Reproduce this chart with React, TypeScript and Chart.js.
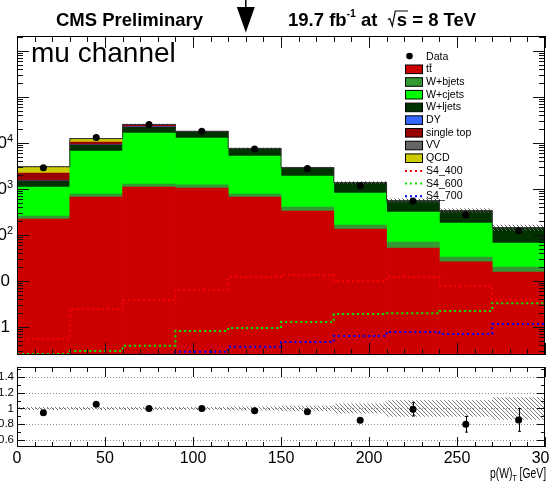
import React, { useEffect, useRef } from 'react';
import { Chart, registerables } from 'chart.js';
Chart.register(...registerables);

const FONT = '"Liberation Sans", Arial, Helvetica, sans-serif';

// ---------------- data ----------------
const binEdges = [0, 30, 60, 90, 120, 150, 180, 210, 240, 270, 300];
// stack components, bottom to top
const ttbar = [223, 670, 1105, 1050, 670, 332, 135, 52, 26, 15.7];
const wbjets = [36, 109, 180, 180, 109, 74, 30, 18, 7, 4.3];
const wcjets = [846, 5920, 15200, 11600, 4436, 1512, 653, 246, 149, 47];
const wljets = [388, 2350, 5400, 4450, 2195, 945, 540, 232, 150, 75];
const drellYan = [15, 120, 500, 200, 80, 20, 5, 2, 1, 0.5];
const singleTop = [720, 1300, 2500, 400, 100, 20, 8, 3, 2, 1];
const qcd = [780, 1700, 100, 50, 10, 4, 1, 0.1, 0.1, 0.1];
const diboson = [40, 300, 300, 50, 30, 10, 3, 2, 1, 0.5];
const mcRelUnc = [0.015, 0.015, 0.015, 0.015, 0.02, 0.03, 0.06, 0.1, 0.1, 0.14];
// data
const dataCounts = [2900, 13200, 25400, 18000, 7400, 2800, 1170, 550, 272, 123];
// signals
const signal400 = [0.55, 2.46, 3.86, 6.36, 12.2, 13.5, 10, 12.2, 7.8, 3.86];
const signal600 = [0.26, 0.3, 0.39, 0.82, 0.95, 1.28, 1.92, 2.0, 2.23, 3.3];
const signal700 = [0.25, 0.25, 0.25, 0.29, 0.37, 0.47, 0.64, 0.78, 0.7, 1.16];
// ratio panel
const ratioValues = [0.945, 1.055, 1.0, 1.0, 0.97, 0.96, 0.85, 0.99, 0.8, 0.855];
const ratioErrors = [0.01, 0.01, 0.01, 0.01, 0.015, 0.02, 0.03, 0.085, 0.1, 0.145];
// ticks / labels
const yDecadeLabels = [0, 1, 2, 3, 4];
const xTickLabels = [0, 50, 100, 150, 200, 250, 300];
const ratioTickLabels = [0.6, 0.8, 1, 1.2, 1.4];
const arrowAt = 130;

const Y_MIN = 0.246;
const Y_MAX = 2.12e6;
const R_MIN = 0.511;
const R_MAX = 1.527;

const C = {
  tt: '#cc0000',
  wb: '#339933',
  wc: '#00ff00',
  wl: '#003300',
  dy: '#3366ff',
  st: '#990000',
  vv: '#666666',
  qcd: '#cccc00',
  s400: '#ff0000',
  s600: '#00ee00',
  s700: '#0000ff',
};

const components = [
  { label: 'tt̄', values: ttbar, color: C.tt },
  { label: 'W+bjets', values: wbjets, color: C.wb },
  { label: 'W+cjets', values: wcjets, color: C.wc },
  { label: 'W+ljets', values: wljets, color: C.wl },
  { label: 'DY', values: drellYan, color: C.dy },
  { label: 'single top', values: singleTop, color: C.st },
  { label: 'QCD', values: qcd, color: C.qcd },
  { label: 'VV', values: diboson, color: C.vv },
];

const legendEntries = [
  { label: 'Data', kind: 'marker', color: '#000' },
  { label: 'tt̄', kind: 'box', color: C.tt },
  { label: 'W+bjets', kind: 'box', color: C.wb },
  { label: 'W+cjets', kind: 'box', color: C.wc },
  { label: 'W+ljets', kind: 'box', color: C.wl },
  { label: 'DY', kind: 'box', color: C.dy },
  { label: 'single top', kind: 'box', color: C.st },
  { label: 'VV', kind: 'box', color: C.vv },
  { label: 'QCD', kind: 'box', color: C.qcd },
  { label: 'S4_400', kind: 'line', color: C.s400 },
  { label: 'S4_600', kind: 'line', color: C.s600 },
  { label: 'S4_700', kind: 'line', color: C.s700 },
];

const centers = binEdges.slice(0, -1).map((e, i) => (e + binEdges[i + 1]) / 2);
// points at bin edges; with stepped 'before' the segment [edge i, edge i+1] takes point i's value
const stepPoints = (vals: number[]) =>
  binEdges.map((e, i) => ({ x: e, y: vals[Math.min(i, vals.length - 1)] }));

function makeHatch(ctx: CanvasRenderingContext2D, color: string) {
  const c = document.createElement('canvas');
  c.width = 4;
  c.height = 4;
  const g = c.getContext('2d')!;
  g.strokeStyle = color;
  g.lineWidth = 1;
  g.beginPath();
  g.moveTo(-1, -1);
  g.lineTo(5, 5);
  g.moveTo(-1, 3);
  g.lineTo(1, 5);
  g.moveTo(3, -1);
  g.lineTo(5, 1);
  g.stroke();
  return ctx.createPattern(c, 'repeat')!;
}

const topPlugin = {
  id: 'topDecor',
  afterDraw(chart: any) {
    const { ctx, chartArea: a } = chart;
    const xs = chart.scales.x;
    const ys = chart.scales.y;
    ctx.save();
    // ticks
    ctx.strokeStyle = '#111';
    ctx.lineWidth = 1;
    ctx.setLineDash([]);
    ctx.beginPath();
    for (let v = 0; v <= 300; v += 10) {
      const px = Math.round(xs.getPixelForValue(v)) + 0.5;
      const len = v % 50 === 0 ? 12 : 6;
      ctx.moveTo(px, a.top);
      ctx.lineTo(px, a.top + len);
      ctx.moveTo(px, a.bottom);
      ctx.lineTo(px, a.bottom - len);
    }
    for (let d = -1; d <= 7; d++) {
      for (let m = 1; m <= 9; m++) {
        const v = m * Math.pow(10, d);
        if (v < ys.min || v > ys.max) continue;
        const py = Math.round(ys.getPixelForValue(v)) + 0.5;
        const len = m === 1 ? 12 : 6;
        ctx.moveTo(a.left, py);
        ctx.lineTo(a.left + len, py);
        ctx.moveTo(a.right, py);
        ctx.lineTo(a.right - len, py);
      }
    }
    ctx.stroke();
    ctx.strokeStyle = '#000';
    ctx.strokeRect(a.left + 0.5, a.top + 0.5, a.right - a.left - 1, a.bottom - a.top - 1);

    // y labels
    ctx.fillStyle = '#000';
    for (const k of yDecadeLabels) {
      const py = ys.getPixelForValue(Math.pow(10, k));
      if (k < 2) {
        ctx.font = `17px ${FONT}`;
        ctx.textAlign = 'right';
        ctx.textBaseline = 'middle';
        ctx.fillText(k === 0 ? '1' : '10', 10, py);
      } else {
        ctx.font = `11px ${FONT}`;
        const sw = ctx.measureText(String(k)).width;
        const right = 13;
        ctx.textAlign = 'left';
        ctx.textBaseline = 'alphabetic';
        ctx.fillText(String(k), right - sw, py - 1);
        ctx.font = `17px ${FONT}`;
        ctx.textAlign = 'right';
        ctx.textBaseline = 'middle';
        ctx.fillText('10', right - sw, py);
      }
    }

    // header
    ctx.textAlign = 'left';
    ctx.textBaseline = 'alphabetic';
    ctx.font = `bold 18.5px ${FONT}`;
    ctx.fillText('CMS Preliminary', 56, 26);
    let x = 288;
    ctx.fillText('19.7 fb', x, 26);
    x += ctx.measureText('19.7 fb').width;
    ctx.font = `bold 10.5px ${FONT}`;
    ctx.fillText('-1', x, 17);
    x += ctx.measureText('-1').width;
    ctx.font = `bold 18.5px ${FONT}`;
    ctx.fillText(' at  ', x, 26);
    x += ctx.measureText(' at  ').width;
    const sw = ctx.measureText('s').width;
    ctx.strokeStyle = '#000';
    ctx.lineWidth = 1.2;
    ctx.beginPath();
    ctx.moveTo(x, 19.5);
    ctx.lineTo(x + 2, 18.5);
    ctx.lineTo(x + 4.5, 26);
    ctx.lineTo(x + 7.5, 11);
    ctx.lineTo(x + 9 + sw + 1, 11);
    ctx.stroke();
    x += 9;
    ctx.fillText('s = 8 TeV', x, 26);

    // arrow
    const ax = xs.getPixelForValue(arrowAt);
    ctx.lineWidth = 1.5;
    ctx.beginPath();
    ctx.moveTo(ax, 0);
    ctx.lineTo(ax, 8);
    ctx.stroke();
    ctx.beginPath();
    ctx.moveTo(ax - 9, 7);
    ctx.lineTo(ax + 9, 7);
    ctx.lineTo(ax, 32.5);
    ctx.closePath();
    ctx.fill();

    // channel label
    ctx.font = `28px ${FONT}`;
    ctx.fillText('mu channel', 31, 62);

    // legend
    const y0 = 56.6;
    const step = 12.7;
    ctx.font = `10.6px ${FONT}`;
    legendEntries.forEach((e, i) => {
      const ry = y0 + i * step;
      if (e.kind === 'marker') {
        ctx.fillStyle = e.color;
        ctx.beginPath();
        ctx.arc(409.5, ry - 0.5, 3.3, 0, Math.PI * 2);
        ctx.fill();
      } else if (e.kind === 'box') {
        ctx.fillStyle = e.color;
        ctx.fillRect(405, ry - 4.3, 18, 8.6);
        ctx.strokeStyle = '#000';
        ctx.lineWidth = 1;
        ctx.strokeRect(405.5, ry - 4.3, 17, 8.6);
      } else {
        ctx.strokeStyle = e.color;
        ctx.lineWidth = 2;
        ctx.setLineDash([2, 3]);
        ctx.beginPath();
        ctx.moveTo(405, ry);
        ctx.lineTo(424, ry);
        ctx.stroke();
        ctx.setLineDash([]);
      }
      ctx.fillStyle = '#000';
      ctx.textBaseline = 'middle';
      if (e.label === 'tt̄') {
        ctx.fillText('tt', 426, ry);
        const w1 = ctx.measureText('t').width;
        ctx.lineWidth = 0.9;
        ctx.strokeStyle = '#000';
        ctx.beginPath();
        ctx.moveTo(426 + w1 + 0.3, ry - 5.2);
        ctx.lineTo(426 + 2 * w1 - 0.3, ry - 5.2);
        ctx.stroke();
      } else {
        ctx.fillText(e.label, 426, ry);
      }
    });
    ctx.restore();
  },
};

const ratioPlugin = {
  id: 'ratioDecor',
  beforeDatasetsDraw(chart: any) {
    const { ctx, chartArea: a } = chart;
    const ys = chart.scales.y;
    ctx.save();
    ctx.strokeStyle = '#8a8a8a';
    ctx.lineWidth = 1;
    ctx.setLineDash([1, 2]);
    ctx.beginPath();
    for (const v of ratioTickLabels) {
      const py = Math.round(ys.getPixelForValue(v)) + 0.5;
      ctx.moveTo(a.left, py);
      ctx.lineTo(a.right, py);
    }
    ctx.stroke();
    ctx.restore();
  },
  afterDatasetDraw(chart: any, args: any) {
    if (args.index !== 1) return;
    const { ctx } = chart;
    const xs = chart.scales.x;
    const ys = chart.scales.y;
    ctx.save();
    ctx.strokeStyle = '#000';
    ctx.lineWidth = 1;
    ctx.beginPath();
    centers.forEach((c, i) => {
      const px = Math.round(xs.getPixelForValue(c)) + 0.5;
      const y1 = ys.getPixelForValue(ratioValues[i] + ratioErrors[i]);
      const y2 = ys.getPixelForValue(ratioValues[i] - ratioErrors[i]);
      ctx.moveTo(px, y1);
      ctx.lineTo(px, y2);
      ctx.moveTo(px - 1.5, y1);
      ctx.lineTo(px + 1.5, y1);
      ctx.moveTo(px - 1.5, y2);
      ctx.lineTo(px + 1.5, y2);
    });
    ctx.stroke();
    ctx.restore();
  },
  afterDraw(chart: any) {
    const { ctx, chartArea: a } = chart;
    const xs = chart.scales.x;
    const ys = chart.scales.y;
    ctx.save();
    ctx.strokeStyle = '#111';
    ctx.lineWidth = 1;
    ctx.beginPath();
    for (let v = 0; v <= 300; v += 10) {
      const px = Math.round(xs.getPixelForValue(v)) + 0.5;
      const len = v % 50 === 0 ? 10 : 5;
      ctx.moveTo(px, a.top);
      ctx.lineTo(px, a.top + len);
      ctx.moveTo(px, a.bottom);
      ctx.lineTo(px, a.bottom - len);
    }
    for (let k = 5; k <= 15; k++) {
      const v = k / 10;
      if (v < ys.min || v > ys.max) continue;
      const py = Math.round(ys.getPixelForValue(v)) + 0.5;
      const len = k % 2 === 0 ? 8 : 4;
      ctx.moveTo(a.left, py);
      ctx.lineTo(a.left + len, py);
      ctx.moveTo(a.right, py);
      ctx.lineTo(a.right - len, py);
    }
    ctx.stroke();
    ctx.strokeStyle = '#000';
    ctx.strokeRect(a.left + 0.5, a.top + 0.5, a.right - a.left - 1, a.bottom - a.top - 1);

    ctx.fillStyle = '#000';
    ctx.font = `11.5px ${FONT}`;
    ctx.textAlign = 'right';
    ctx.textBaseline = 'middle';
    for (const v of ratioTickLabels) {
      ctx.fillText(String(v), 14, ys.getPixelForValue(v));
    }
    ctx.font = `16px ${FONT}`;
    ctx.textAlign = 'center';
    for (const v of xTickLabels) {
      ctx.fillText(String(v), xs.getPixelForValue(v), a.bottom + 11.5);
    }

    // axis title p(W)_T [GeV]
    ctx.font = `14px ${FONT}`;
    const w1 = ctx.measureText('p(W)').width;
    const w3 = ctx.measureText(' [GeV]').width;
    ctx.font = `9.5px ${FONT}`;
    const w2 = ctx.measureText('T').width;
    const total = w1 + w2 + w3;
    const targetW = 56;
    const sx = targetW / total;
    const base = a.bottom + 30.5;
    ctx.translate(546 - targetW, base);
    ctx.scale(sx, 1);
    ctx.textAlign = 'left';
    ctx.textBaseline = 'alphabetic';
    ctx.font = `14px ${FONT}`;
    ctx.fillText('p(W)', 0, 0);
    ctx.font = `9.5px ${FONT}`;
    ctx.fillText('T', w1, 3.5);
    ctx.font = `14px ${FONT}`;
    ctx.fillText(' [GeV]', w1 + w2, 0);
    ctx.restore();
  },
};

export default function App() {
  const topRef = useRef<HTMLCanvasElement>(null);
  const ratioRef = useRef<HTMLCanvasElement>(null);

  useEffect(() => {
    const topCanvas = topRef.current!;
    const ratioCanvas = ratioRef.current!;
    const hatchTop = makeHatch(topCanvas.getContext('2d')!, '#555555');
    const hatchRatio = makeHatch(ratioCanvas.getContext('2d')!, '#7a7a7a');

    const cum = new Array(centers.length).fill(0);
    const barSets: any[] = components.map((comp, ci) => {
      const data = centers.map((c, i) => {
        const lo = ci === 0 ? Y_MIN : cum[i];
        const hi = cum[i] + comp.values[i];
        return { x: c, y: [lo, hi] };
      });
      centers.forEach((_, i) => (cum[i] += comp.values[i]));
      return {
        type: 'bar',
        label: comp.label,
        data,
        backgroundColor: comp.color,
        borderWidth: 0,
        order: 10 + ci,
      };
    });
    const totals = cum.slice();

    const signalSet = (label: string, vals: number[], color: string, order: number) => ({
      type: 'line',
      label,
      data: stepPoints(vals),
      stepped: 'before',
      borderColor: color,
      borderWidth: 2,
      borderDash: [2, 3],
      pointRadius: 0,
      fill: false,
      order,
    });

    const topChart = new Chart(topCanvas, {
      type: 'bar',
      data: {
        datasets: [
          {
            type: 'line',
            label: 'Data',
            data: centers.map((c, i) => ({ x: c, y: dataCounts[i] })),
            showLine: false,
            pointRadius: 3.5,
            pointBackgroundColor: '#000',
            pointBorderWidth: 0,
            order: 0,
          } as any,
          signalSet('S4_400', signal400, C.s400, 1),
          signalSet('S4_600', signal600, C.s600, 1),
          signalSet('S4_700', signal700, C.s700, 1),
          {
            type: 'line',
            label: 'total',
            data: stepPoints(totals),
            stepped: 'before',
            borderColor: '#333',
            borderWidth: 1,
            pointRadius: 0,
            fill: false,
            order: 3,
          } as any,
          {
            type: 'bar',
            label: 'MC unc.',
            data: centers.map((c, i) => ({
              x: c,
              y: [totals[i] * (1 - mcRelUnc[i]), totals[i] * (1 + mcRelUnc[i])],
            })),
            backgroundColor: hatchTop,
            borderWidth: 0,
            order: 4,
          } as any,
          ...barSets,
        ],
      },
      options: {
        animation: false,
        responsive: false,
        devicePixelRatio: 1,
        layout: { padding: { left: 17, top: 36, right: 3, bottom: 5 } },
        datasets: {
          bar: { grouped: false, barPercentage: 1, categoryPercentage: 1 },
        } as any,
        scales: {
          x: { type: 'linear', min: 0, max: 300, display: false, offset: false },
          y: { type: 'logarithmic', min: Y_MIN, max: Y_MAX, display: false },
        },
        plugins: { legend: { display: false }, tooltip: { enabled: false } },
      } as any,
      plugins: [topPlugin],
    });

    const ratioChart = new Chart(ratioCanvas, {
      type: 'bar',
      data: {
        datasets: [
          {
            type: 'line',
            label: 'Data/MC',
            data: centers.map((c, i) => ({ x: c, y: ratioValues[i] })),
            showLine: false,
            pointRadius: 3.5,
            pointBackgroundColor: '#000',
            pointBorderWidth: 0,
            order: 0,
          } as any,
          {
            type: 'bar',
            label: 'MC unc.',
            data: centers.map((c, i) => ({ x: c, y: [1 - mcRelUnc[i], 1 + mcRelUnc[i]] })),
            backgroundColor: hatchRatio,
            borderWidth: 0,
            order: 1,
          } as any,
        ],
      },
      options: {
        animation: false,
        responsive: false,
        devicePixelRatio: 1,
        layout: { padding: { left: 17, top: 7, right: 3, bottom: 38 } },
        datasets: {
          bar: { grouped: false, barPercentage: 1, categoryPercentage: 1 },
        } as any,
        scales: {
          x: { type: 'linear', min: 0, max: 300, display: false, offset: false },
          y: { type: 'linear', min: R_MIN, max: R_MAX, display: false },
        },
        plugins: { legend: { display: false }, tooltip: { enabled: false } },
      } as any,
      plugins: [ratioPlugin],
    });

    return () => {
      topChart.destroy();
      ratioChart.destroy();
    };
  }, []);

  return (
    <div style={{ position: 'absolute', left: 0, top: 0, width: 549, height: 485, background: '#fff' }}>
      <canvas ref={topRef} width={549} height={360} style={{ position: 'absolute', left: 0, top: 0 }} />
      <canvas ref={ratioRef} width={549} height={125} style={{ position: 'absolute', left: 0, top: 360 }} />
    </div>
  );
}
